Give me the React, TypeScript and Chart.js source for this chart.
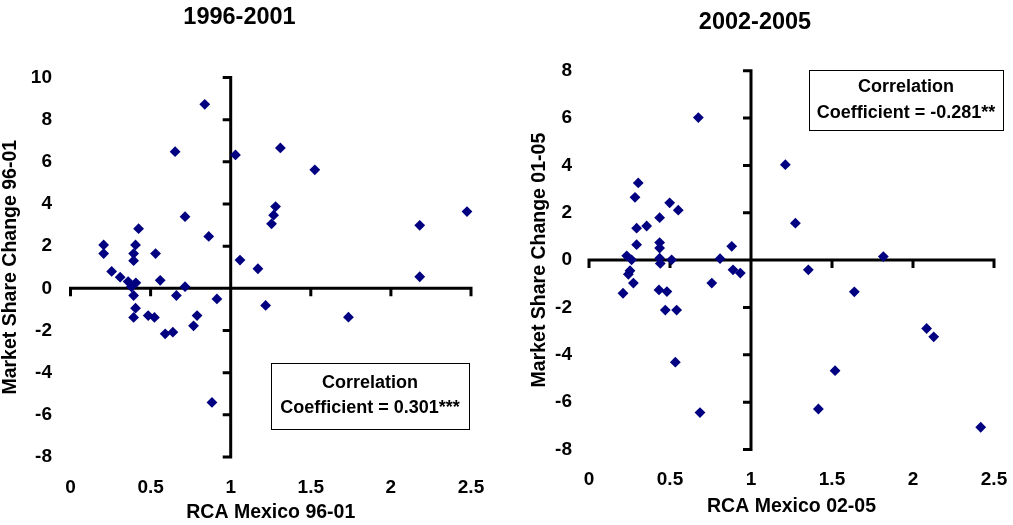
import React, { useEffect, useRef } from "react";
import { Chart, registerables } from "chart.js";

Chart.register(...registerables);

const FONT = "'Liberation Sans', Arial, Helvetica, sans-serif";
const NAVY = "#000080";

// ---- 1996-2001 ----
const rca9601 = [
  0.838, 0.653, 1.03, 1.31, 1.525, 1.28, 1.268, 1.255, 2.475, 2.18, 2.18,
  0.715, 0.425, 0.863, 0.207, 0.406, 0.207, 0.394, 0.531, 0.394, 1.058,
  1.17, 0.257, 0.31, 0.36, 0.408, 0.38, 0.56, 0.715, 0.394, 0.661, 0.914,
  0.406, 0.394, 0.485, 0.524, 0.79, 0.768, 0.591, 0.639, 0.883, 1.218, 1.735,
];
const share9601 = [
  8.73, 6.48, 6.33, 6.66, 5.62, 3.88, 3.47, 3.06, 3.64, 2.99, 0.55,
  3.4, 2.83, 2.46, 2.06, 2.06, 1.65, 1.65, 1.65, 1.31, 1.34,
  0.93, 0.8, 0.53, 0.32, 0.26, 0.07, 0.38, 0.08, -0.34, -0.34, -0.5,
  -0.94, -1.38, -1.29, -1.38, -1.29, -1.78, -2.16, -2.08, -5.41, -0.81, -1.37,
];

// ---- 2002-2005 ----
const rca0205 = [
  0.675, 0.304, 0.284, 0.498, 0.551, 0.436, 0.294, 0.356, 0.294, 0.436,
  0.436, 0.881, 0.233, 0.263, 0.436, 0.44, 0.51, 0.809, 0.889, 0.934,
  0.253, 0.243, 0.274, 0.758, 0.21, 0.432, 0.481, 0.471, 0.541, 0.533,
  0.685, 1.212, 1.274, 1.354, 1.817, 1.638, 2.084, 2.128, 1.519, 1.416, 2.418,
];
const share0205 = [
  6.02, 3.26, 2.65, 2.42, 2.11, 1.79, 1.35, 1.44, 0.65, 0.74,
  0.51, 0.58, 0.18, 0.01, 0.08, -0.14, 0.01, 0.06, -0.41, -0.55,
  -0.45, -0.6, -0.97, -0.97, -1.4, -1.26, -1.33, -2.11, -2.11, -4.31,
  -6.44, 4.03, 1.56, -0.41, 0.15, -1.34, -2.89, -3.24, -4.67, -6.29, -7.06,
];

const xTickLabels = ["0", "0.5", "1", "1.5", "2", "2.5"];
const yTickLabels9601 = ["-8", "-6", "-4", "-2", "0", "2", "4", "6", "8", "10"];
const yTickLabels0205 = ["-8", "-6", "-4", "-2", "0", "2", "4", "6", "8"];

const chartTitles = ["1996-2001", "2002-2005"];
const xTitles = ["RCA Mexico 96-01", "RCA Mexico 02-05"];
const yTitles = ["Market Share Change 96-01", "Market Share Change 01-05"];
const corrText9601 = ["Correlation", "Coefficient = 0.301***"];
const corrText0205 = ["Correlation", "Coefficient = -0.281**"];

const crossAxesPlugin = {
  id: "crossAxes",
  beforeDatasetsDraw(chart: any, _args: any, opts: any) {
    const { ctx } = chart;
    const xs = chart.scales.x;
    const ys = chart.scales.y;
    const ax = xs.getPixelForValue(opts.xCross);
    const ay = ys.getPixelForValue(opts.yCross);
    const t = opts.tick;
    const hw = opts.width / 2;
    ctx.save();
    ctx.strokeStyle = "#000";
    ctx.lineWidth = opts.width;
    ctx.lineCap = "butt";
    ctx.beginPath();
    ctx.moveTo(ax, ys.top - hw);
    ctx.lineTo(ax, ys.bottom + hw);
    ctx.moveTo(xs.left - hw, ay);
    ctx.lineTo(xs.right + hw, ay);
    for (const tk of ys.ticks) {
      const py = ys.getPixelForValue(tk.value);
      ctx.moveTo(ax - t, py);
      ctx.lineTo(ax, py);
    }
    for (const tk of xs.ticks) {
      const px = xs.getPixelForValue(tk.value);
      ctx.moveTo(px, ay);
      ctx.lineTo(px, ay + t);
    }
    ctx.stroke();
    ctx.restore();
  },
};

const corrBoxPlugin = {
  id: "corrBox",
  afterDatasetsDraw(chart: any, _args: any, opts: any) {
    const { ctx } = chart;
    const xs = chart.scales.x;
    const ys = chart.scales.y;
    const l = Math.round(xs.getPixelForValue(opts.x0));
    const r = Math.round(xs.getPixelForValue(opts.x1));
    const t = Math.round(ys.getPixelForValue(opts.y0));
    const b = Math.round(ys.getPixelForValue(opts.y1));
    ctx.save();
    ctx.fillStyle = "#fff";
    ctx.fillRect(l, t, r - l, b - t);
    ctx.strokeStyle = "#000";
    ctx.lineWidth = 1;
    ctx.strokeRect(l + 0.5, t + 0.5, r - l, b - t);
    ctx.fillStyle = "#000";
    ctx.font = `bold ${opts.fontSize}px ${FONT}`;
    ctx.textAlign = "center";
    ctx.textBaseline = "middle";
    const cx = (l + r) / 2;
    const cy = (t + b) / 2;
    const n = opts.lines.length;
    opts.lines.forEach((s: string, i: number) => {
      ctx.fillText(s, cx, cy + (i - (n - 1) / 2) * opts.lineGap);
    });
    ctx.restore();
  },
};

type Panel = {
  left: number;
  width: number;
  xs: number[];
  ys: number[];
  yTickLabels: string[];
  yMin: number;
  yMax: number;
  title: string;
  xTitle: string;
  yTitle: string;
  corr: string[];
  box: { x0: number; x1: number; y0: number; y1: number; lineGap: number };
  padLeft: number;
  padRight: number;
  yScaleWidth: number;
  yTickPad: number;
  yTitlePadTop: number;
  titlePadTop: number;
  titlePadBottom: number;
  xScaleHeight: number;
  xTickPad: number;
  xTitlePadBottom: number;
};

const panels: Panel[] = [
  {
    left: 0,
    width: 498,
    xs: rca9601,
    ys: share9601,
    yTickLabels: yTickLabels9601,
    yMin: -8,
    yMax: 10,
    title: chartTitles[0],
    xTitle: xTitles[0],
    yTitle: yTitles[0],
    corr: corrText9601,
    box: { x0: 1.254, x1: 2.489, y0: -3.545, y1: -6.66, lineGap: 25 },
    padLeft: 8,
    padRight: 27,
    yScaleWidth: 62.5,
    yTickPad: 18.5,
    yTitlePadTop: 0,
    titlePadTop: 3.8,
    titlePadBottom: 45.5,
    xScaleHeight: 68,
    xTickPad: 19.6,
    xTitlePadBottom: 0.3,
  },
  {
    left: 516,
    width: 497,
    xs: rca0205,
    ys: share0205,
    yTickLabels: yTickLabels0205,
    yMin: -8,
    yMax: 8,
    title: chartTitles[1],
    xTitle: xTitles[1],
    yTitle: yTitles[1],
    corr: corrText0205,
    box: { x0: 1.358, x1: 2.557, y0: 8.05, y1: 5.48, lineGap: 26 },
    padLeft: 0,
    padRight: 19,
    yScaleWidth: 73,
    yTickPad: 17,
    yTitlePadTop: 21.1,
    titlePadTop: 8.6,
    titlePadBottom: 33.9,
    xScaleHeight: 75.5,
    xTickPad: 19.1,
    xTitlePadBottom: 6.3,
  },
];

function buildConfig(p: Panel): any {
  const tickFont = { family: FONT, size: 19, weight: "bold" as const, lineHeight: 1.2 };
  return {
    type: "scatter",
    data: {
      datasets: [
        {
          data: p.xs.map((x, i) => ({ x, y: p.ys[i] })),
          backgroundColor: NAVY,
          borderColor: NAVY,
          borderWidth: 0,
          pointStyle: "rectRot",
          pointRadius: 5.4,
          pointHoverRadius: 5.4,
          clip: false,
        },
      ],
    },
    options: {
      animation: false,
      responsive: false,
      devicePixelRatio: 1,
      events: [],
      layout: { padding: { left: p.padLeft, right: p.padRight, top: 0, bottom: 0 } },
      plugins: {
        legend: { display: false },
        tooltip: { enabled: false },
        title: {
          display: true,
          text: p.title,
          color: "#000",
          font: { family: FONT, size: 23.5, weight: "bold", lineHeight: 1.2 },
          padding: { top: p.titlePadTop, bottom: p.titlePadBottom },
        },
        crossAxes: { xCross: 1, yCross: 0, tick: 8, width: 3 },
        corrBox: { ...p.box, lines: p.corr, fontSize: 18 },
      },
      scales: {
        x: {
          type: "linear",
          position: "bottom",
          min: 0,
          max: 2.5,
          grid: { display: false, drawTicks: false },
          border: { display: false },
          ticks: {
            stepSize: 0.5,
            autoSkip: false,
            maxRotation: 0,
            padding: p.xTickPad,
            color: "#000",
            font: tickFont,
            callback: (_v: any, i: number) => xTickLabels[i],
          },
          title: {
            display: true,
            text: p.xTitle,
            color: "#000",
            font: { family: FONT, size: 19.5, weight: "bold", lineHeight: 1.2 },
            padding: { top: 0, bottom: p.xTitlePadBottom },
          },
          afterFit: (s: any) => {
            s.height = p.xScaleHeight;
            s.paddingLeft = 0;
            s.paddingRight = 0;
          },
        },
        y: {
          type: "linear",
          position: "left",
          min: p.yMin,
          max: p.yMax,
          grid: { display: false, drawTicks: false },
          border: { display: false },
          ticks: {
            stepSize: 2,
            autoSkip: false,
            padding: p.yTickPad,
            color: "#000",
            font: tickFont,
            callback: (_v: any, i: number) => p.yTickLabels[i],
          },
          title: {
            display: true,
            text: p.yTitle,
            color: "#000",
            font: { family: FONT, size: 19.5, weight: "bold", lineHeight: 0.3 },
            padding: { top: p.yTitlePadTop, bottom: 0 },
          },
          afterFit: (s: any) => {
            s.width = p.yScaleWidth;
            s.paddingTop = 0;
            s.paddingBottom = 0;
          },
        },
      },
    },
    plugins: [crossAxesPlugin, corrBoxPlugin],
  };
}

function ScatterPanel({ panel }: { panel: Panel }) {
  const ref = useRef<HTMLCanvasElement | null>(null);
  useEffect(() => {
    if (!ref.current) return;
    const chart = new Chart(ref.current, buildConfig(panel));
    return () => chart.destroy();
  }, [panel]);
  return (
    <div style={{ position: "absolute", left: panel.left, top: 0, width: panel.width, height: 525 }}>
      <canvas ref={ref} width={panel.width} height={525} style={{ display: "block" }} />
    </div>
  );
}

export default function App() {
  return (
    <div style={{ position: "fixed", left: 0, top: 0, width: 1013, height: 525, background: "#fff", overflow: "hidden" }}>
      {panels.map((p, i) => (
        <ScatterPanel key={i} panel={p} />
      ))}
    </div>
  );
}
